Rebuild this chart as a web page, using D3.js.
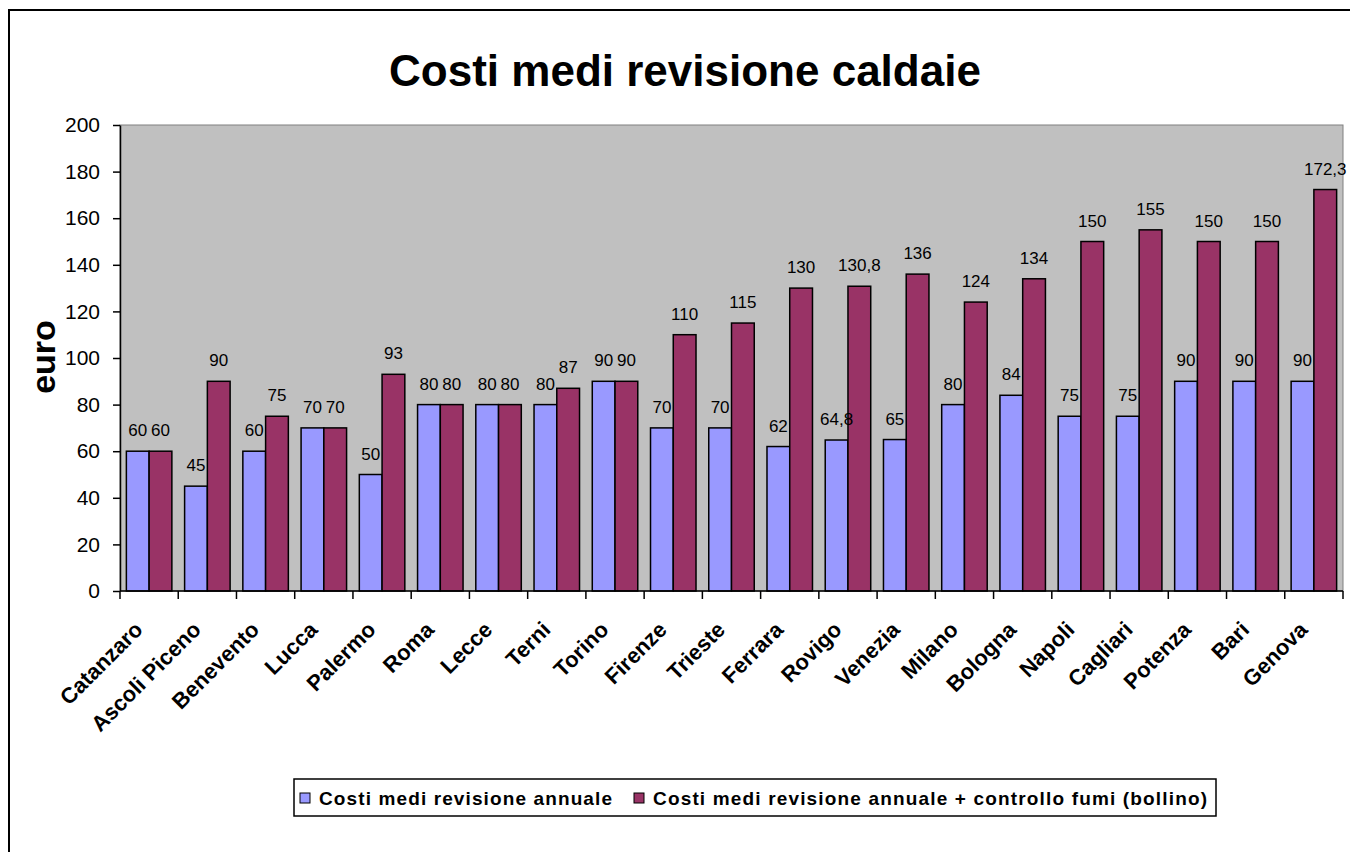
<!DOCTYPE html>
<html>
<head>
<meta charset="utf-8">
<script src="https://cdn.jsdelivr.net/npm/d3@7"></script>
<style>
  body { margin: 0; background: #fff; }
  text { font-family: "Liberation Sans", Arial, sans-serif; }
</style>
</head>
<body>
<svg width="1350" height="852"></svg>
<script>
// data
var cities = ["Catanzaro", "Ascoli Piceno", "Benevento", "Lucca", "Palermo", "Roma", "Lecce", "Terni", "Torino",
  "Firenze", "Trieste", "Ferrara", "Rovigo", "Venezia", "Milano", "Bologna", "Napoli", "Cagliari", "Potenza", "Bari", "Genova"];
var annual = [60, 45, 60, 70, 50, 80, 80, 80, 90, 70, 70, 62, 64.8, 65, 80, 84, 75, 75, 90, 90, 90];
var withFumi = [60, 90, 75, 70, 93, 80, 80, 87, 90, 110, 115, 130, 130.8, 136, 124, 134, 150, 155, 150, 150, 172.3];
var seriesNames = ["Costi medi revisione annuale", "Costi medi revisione annuale + controllo fumi (bollino)"];
var colors = ["#9999FF", "#993366"];
var yTicks = [0, 20, 40, 60, 80, 100, 120, 140, 160, 180, 200];

var svg = d3.select("svg");
var plotLeft = 120, plotRight = 1343, plotTop = 125, plotBottom = 591;

// outer chart frame (only left + top visible)
svg.append("path").attr("d", "M9,852V10H1350").attr("fill", "none").attr("stroke", "#000").attr("stroke-width", 2);

var x = d3.scaleBand().domain(cities).range([plotLeft, plotRight]).padding(0);
var x1 = d3.scaleBand().domain([0, 1]).range([0, x.bandwidth()]).paddingInner(0).paddingOuter(0.28);
var y = d3.scaleLinear().domain([0, 200]).range([plotBottom, plotTop]);

// plot background
svg.append("rect").attr("x", plotLeft).attr("y", plotTop).attr("width", plotRight - plotLeft).attr("height", plotBottom - plotTop)
  .attr("fill", "#C0C0C0").attr("stroke", "#808080").attr("stroke-width", 1);

var fmt = function(v) { return String(v).replace(".", ","); };

var groups = svg.append("g").selectAll("g").data(cities).enter().append("g")
  .attr("transform", function(d) { return "translate(" + x(d) + ",0)"; });

groups.selectAll("rect")
  .data(function(d, i) { return [annual[i], withFumi[i]]; })
  .enter().append("rect")
    .attr("x", function(d, j) { return x1(j); })
    .attr("y", function(d) { return y(d); })
    .attr("width", x1.bandwidth())
    .attr("height", function(d) { return plotBottom - y(d); })
    .attr("fill", function(d, j) { return colors[j]; })
    .attr("stroke", "#000").attr("stroke-width", 1.5);

groups.selectAll("text.val")
  .data(function(d, i) { return [annual[i], withFumi[i]]; })
  .enter().append("text").attr("class", "val")
    .attr("x", function(d, j) { return x1(j) + x1.bandwidth() / 2; })
    .attr("y", function(d) { return y(d) - 15; })
    .attr("text-anchor", "middle")
    .attr("font-size", 17)
    .text(fmt);

// y axis
var yAxis = svg.append("g").attr("transform", "translate(" + plotLeft + ",0)")
  .call(d3.axisLeft(y).tickValues(yTicks).tickSize(7).tickSizeOuter(0).tickPadding(13));
yAxis.select(".domain").attr("stroke", "#000").attr("stroke-width", 1.5);
yAxis.selectAll(".tick line").attr("stroke", "#000").attr("stroke-width", 1.5);
yAxis.selectAll(".tick text").attr("font-size", 21).attr("fill", "#000")
  .style("font-family", "'Liberation Sans', Arial, sans-serif");

// x axis: ticks on band boundaries
var xAxisG = svg.append("g");
xAxisG.append("line").attr("x1", plotLeft).attr("x2", plotRight).attr("y1", plotBottom).attr("y2", plotBottom)
  .attr("stroke", "#000").attr("stroke-width", 1.5);
xAxisG.selectAll("line.tk").data(cities.concat(["end"])).enter().append("line").attr("class", "tk")
  .attr("x1", function(d, i) { return plotLeft + i * x.step(); })
  .attr("x2", function(d, i) { return plotLeft + i * x.step(); })
  .attr("y1", plotBottom).attr("y2", plotBottom + 8)
  .attr("stroke", "#000").attr("stroke-width", 1.5);
xAxisG.selectAll("text").data(cities).enter().append("text")
  .attr("transform", function(d) { return "translate(" + (x(d) + x.bandwidth() / 2 - 5) + "," + 631 + ") rotate(-45)"; })
  .attr("text-anchor", "end")
  .attr("font-size", 22).attr("font-weight", "bold")
  .text(function(d) { return d; });

// y label
svg.append("text").attr("transform", "translate(55,357) rotate(-90)")
  .attr("text-anchor", "middle").attr("font-size", 34).attr("font-weight", "bold").text("euro");

// title
svg.append("text").attr("x", 685).attr("y", 86).attr("text-anchor", "middle")
  .attr("font-size", 44).attr("font-weight", "bold").text("Costi medi revisione caldaie");

// legend
var lg = svg.append("g");
lg.append("rect").attr("x", 294).attr("y", 779).attr("width", 922).attr("height", 37)
  .attr("fill", "#fff").attr("stroke", "#000").attr("stroke-width", 1.5);
var lgX = [300, 634];
var lgLen = [293, 554];
seriesNames.forEach(function(name, i) {
  lg.append("rect").attr("x", lgX[i]).attr("y", 793).attr("width", 10).attr("height", 10)
    .attr("fill", colors[i]).attr("stroke", "#000").attr("stroke-width", 1);
  lg.append("text").attr("x", lgX[i] + 19).attr("y", 805).attr("font-size", 19).attr("font-weight", "bold")
    .attr("textLength", lgLen[i]).attr("lengthAdjust", "spacing").text(name);
});
</script>
</body>
</html>
